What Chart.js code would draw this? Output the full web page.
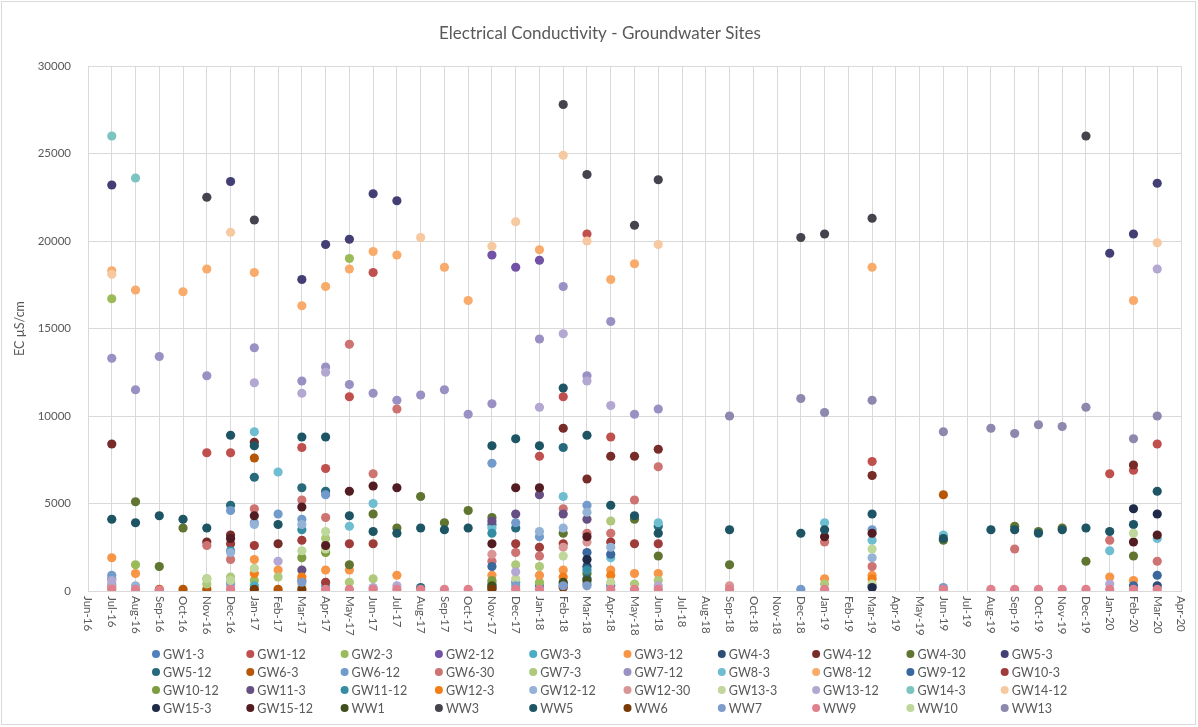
<!DOCTYPE html>
<html>
<head>
<meta charset="utf-8">
<script src="https://cdn.jsdelivr.net/npm/chart.js@4.4.1/dist/chart.umd.min.js"></script>
<style>
  html, body { margin: 0; padding: 0; background: #ffffff; }
  #wrap { width: 1198px; height: 727px; }
</style>
</head>
<body>
<div id="wrap"><canvas id="c" width="1198" height="727"></canvas></div>
<script>
// ---------- tick labels ----------
const months = ['Jun-16','Jul-16','Aug-16','Sep-16','Oct-16','Nov-16','Dec-16',
  'Jan-17','Feb-17','Mar-17','Apr-17','May-17','Jun-17','Jul-17','Aug-17','Sep-17','Oct-17','Nov-17','Dec-17',
  'Jan-18','Feb-18','Mar-18','Apr-18','May-18','Jun-18','Jul-18','Aug-18','Sep-18','Oct-18','Nov-18','Dec-18',
  'Jan-19','Feb-19','Mar-19','Apr-19','May-19','Jun-19','Jul-19','Aug-19','Sep-19','Oct-19','Nov-19','Dec-19',
  'Jan-20','Feb-20','Mar-20','Apr-20'];
const yTicks = [0, 5000, 10000, 15000, 20000, 25000, 30000];
const TITLE = 'Electrical Conductivity - Groundwater Sites';
const Y_TITLE = 'EC µS/cm';

// ---------- series (sample month, EC value) ----------
const GW1_3 = [['Jul-16',700],['Dec-16',400],['Mar-17',600],['Nov-17',400],['Jan-18',300],['Feb-18',400],['Apr-18',300],['Mar-19',300]];
const GW1_12 = [['Nov-16',7900],['Dec-16',7900],['Mar-17',8200],['Apr-17',7000],['May-17',11100],['Jun-17',18200],['Jan-18',7700],['Feb-18',11100],['Mar-18',20400],['Apr-18',8800],['Mar-19',7400],['Jan-20',6700],['Feb-20',6900],['Mar-20',8400]];
const GW2_3 = [['Jul-16',16700],['Aug-16',1500],['Nov-16',700],['Jan-17',600],['May-17',19000],['Jan-18',500]];
const GW2_12 = [['Nov-17',19200],['Dec-17',18500],['Jan-18',18900]];
const GW3_3 = [['Jul-16',300],['Jan-17',300],['Apr-17',300],['Dec-17',500],['Feb-18',300],['Mar-18',400]];
const GW3_12 = [['Jul-16',1900],['Aug-16',1000],['Jan-17',1800],['Feb-17',1200],['Apr-17',1200],['May-17',1200],['Jul-17',900],['Nov-17',900],['Jan-18',900],['Feb-18',1200],['Apr-18',1200],['May-18',1000],['Jun-18',1000],['Jan-19',700],['Mar-19',900],['Jan-20',800],['Feb-20',600]];
const GW4_3 = [['Mar-18',1400],['Mar-20',300]];
const GW4_12 = [['Jul-16',8400],['Nov-16',2800],['Dec-16',3200],['Jan-17',8500],['Feb-17',2700],['Feb-18',9300],['Mar-18',6400],['Apr-18',7700],['May-18',7700],['Jun-18',8100],['Mar-19',6600],['Feb-20',7200]];
const GW4_30 = [['Aug-16',5100],['Sep-16',1400],['Oct-16',3600],['May-17',1500],['Jun-17',4400],['Jul-17',3600],['Aug-17',5400],['Sep-17',3900],['Oct-17',4600],['Nov-17',4200],['Feb-18',3300],['Mar-18',1000],['May-18',4100],['Jun-18',2000],['Sep-18',1500],['Jun-19',2900],['Sep-19',3700],['Oct-19',3400],['Nov-19',3600],['Dec-19',1700],['Feb-20',2000]];
const GW5_3 = [['Jul-16',23200],['Dec-16',23400],['Mar-17',17800],['Apr-17',19800],['May-17',20100],['Jun-17',22700],['Jul-17',22300],['Jan-20',19300],['Feb-20',20400],['Mar-20',23300]];
const GW5_12 = [['Dec-16',4900],['Jan-17',6500],['Mar-17',5900],['Apr-17',5700],['Aug-17',200],['Nov-17',3800],['Dec-17',3600],['Feb-18',8200],['Mar-18',700],['Jun-18',3700]];
const GW6_3 = [['Sep-16',100],['Oct-16',100],['Nov-16',100],['Jan-17',7600],['Feb-17',100],['Jun-19',5500]];
const GW6_12 = [['Jul-16',900],['Dec-16',4600],['Jan-17',3900],['Feb-17',4400],['Mar-17',4100],['Apr-17',5500],['Nov-17',7300],['Dec-17',3900],['Jan-18',3100],['Mar-18',4900],['Dec-18',100],['Mar-19',3500],['Jun-19',200]];
const GW6_30 = [['Nov-16',2600],['Dec-16',1800],['Jan-17',4700],['Mar-17',5200],['Apr-17',4200],['May-17',14100],['Jun-17',6700],['Jul-17',10400],['Nov-17',1700],['Dec-17',2200],['Jan-18',2000],['Feb-18',4700],['Mar-18',3300],['Apr-18',3300],['May-18',5200],['Jun-18',7100],['Jan-19',2800],['Mar-19',1400],['Sep-19',2400],['Jan-20',2900],['Mar-20',1700]];
const GW7_3 = [['Nov-16',400],['Dec-16',800],['Feb-17',800],['Apr-17',3000],['May-17',500],['Jun-17',700],['Nov-17',500],['Dec-17',1500],['Jan-18',1400],['Apr-18',4000],['May-18',400],['Jun-18',600],['Jan-19',400]];
const GW7_12 = [['Jul-16',13300],['Aug-16',11500],['Sep-16',13400],['Nov-16',12300],['Jan-17',13900],['Mar-17',12000],['Apr-17',12800],['May-17',11800],['Jun-17',11300],['Jul-17',10900],['Aug-17',11200],['Sep-17',11500],['Oct-17',10100],['Nov-17',10700],['Jan-18',14400],['Feb-18',17400],['Mar-18',12300],['Apr-18',15400],['May-18',10100],['Jun-18',10400]];
const GW8_3 = [['Jan-17',9100],['Feb-17',6800],['May-17',3700],['Jun-17',5000],['Nov-17',3600],['Feb-18',5400],['Apr-18',1900],['Jun-18',3900],['Jan-19',3900],['Mar-19',2900],['Jun-19',3200],['Jan-20',2300],['Mar-20',3000]];
const GW8_12 = [['Jul-16',18300],['Aug-16',17200],['Oct-16',17100],['Nov-16',18400],['Jan-17',18200],['Mar-17',16300],['Apr-17',17400],['May-17',18400],['Jun-17',19400],['Jul-17',19200],['Sep-17',18500],['Oct-17',16600],['Jan-18',19500],['Apr-18',17800],['May-18',18700],['Mar-19',18500],['Feb-20',16600]];
const GW9_12 = [['Nov-17',1400],['Mar-18',2200],['Apr-18',2100],['Feb-20',300],['Mar-20',900]];
const GW10_3 = [['Dec-16',2700],['Jan-17',2600],['Mar-17',2900],['Apr-17',500],['May-17',2700],['Jun-17',2700],['Dec-17',2700],['Jan-18',2500],['Feb-18',2700],['Apr-18',2800],['May-18',2700],['Jun-18',2700]];
const GW10_12 = [['Mar-17',1900],['Apr-17',2200],['Nov-17',600]];
const GW11_3 = [['Mar-17',1200],['Nov-17',4000],['Dec-17',4400],['Jan-18',5500],['Feb-18',4400],['Mar-18',4100]];
const GW11_12 = [['Dec-16',2300],['Mar-17',3500],['Nov-17',3300],['Mar-18',1200]];
const GW12_3 = [['Jan-17',1000],['Mar-17',800],['Feb-18',800],['Apr-18',900],['Mar-19',700]];
const GW12_12 = [['Jul-16',400],['Aug-16',300],['Dec-16',2200],['Jan-17',3800],['Mar-17',3800],['Jan-18',3400],['Feb-18',3600],['Mar-18',4500],['Apr-18',2500],['Mar-19',1900]];
const GW12_30 = [['Jul-16',200],['Nov-17',2100],['Feb-18',2500],['Mar-18',2800],['Sep-18',300]];
const GW13_3 = [['Jan-17',1300],['Mar-17',300],['Apr-17',2400],['Dec-17',700],['Apr-18',500],['Mar-19',400]];
const GW13_12 = [['Jul-16',600],['Dec-16',300],['Jan-17',11900],['Feb-17',1700],['Mar-17',11300],['Apr-17',12500],['Jun-17',200],['Jul-17',300],['Dec-17',1100],['Jan-18',10500],['Feb-18',14700],['Mar-18',12000],['Apr-18',10600],['Jun-18',300],['Jan-20',400],['Mar-20',18400]];
const GW14_3 = [['Jul-16',26000],['Aug-16',23600]];
const GW14_12 = [['Jul-16',18100],['Dec-16',20500],['Aug-17',20200],['Nov-17',19700],['Dec-17',21100],['Feb-18',24900],['Mar-18',20000],['Jun-18',19800],['Mar-20',19900]];
const GW15_3 = [['Nov-17',200],['Mar-18',1800],['Mar-19',200],['Feb-20',4700],['Mar-20',4400]];
const GW15_12 = [['Dec-16',3000],['Jan-17',4300],['Mar-17',4800],['Apr-17',2600],['May-17',5700],['Jun-17',6000],['Jul-17',5900],['Nov-17',2700],['Dec-17',5900],['Jan-18',5900],['Mar-18',3100],['Jan-19',3100],['Mar-19',3300],['Feb-20',2800],['Mar-20',3200]];
const WW1 = [['Nov-17',300],['Feb-18',500],['Mar-18',600]];
const WW3 = [['Nov-16',22500],['Jan-17',21200],['Feb-18',27800],['Mar-18',23800],['May-18',20900],['Jun-18',23500],['Dec-18',20200],['Jan-19',20400],['Mar-19',21300],['Dec-19',26000]];
const WW5 = [['Jul-16',4100],['Aug-16',3900],['Sep-16',4300],['Oct-16',4100],['Nov-16',3600],['Dec-16',8900],['Jan-17',8300],['Feb-17',3800],['Mar-17',8800],['Apr-17',8800],['May-17',4300],['Jun-17',3400],['Jul-17',3300],['Aug-17',3600],['Sep-17',3500],['Oct-17',3600],['Nov-17',8300],['Dec-17',8700],['Jan-18',8300],['Feb-18',11600],['Mar-18',8900],['Apr-18',4900],['May-18',4300],['Jun-18',3300],['Sep-18',3500],['Dec-18',3300],['Jan-19',3500],['Mar-19',4400],['Jun-19',3000],['Aug-19',3500],['Sep-19',3500],['Oct-19',3300],['Nov-19',3500],['Dec-19',3600],['Jan-20',3400],['Feb-20',3800],['Mar-20',5700]];
const WW6 = [['Jan-17',100],['Mar-17',100],['Nov-17',100],['Feb-18',200]];
const WW7 = [['Dec-16',500],['Mar-17',500],['Dec-17',300],['Feb-18',300],['Mar-18',300]];
const WW9 = [['Jul-16',100],['Aug-16',100],['Sep-16',50],['Dec-16',100],['Apr-17',100],['May-17',100],['Jun-17',100],['Jul-17',100],['Aug-17',100],['Sep-17',100],['Oct-17',100],['Dec-17',100],['Jan-18',100],['Apr-18',100],['May-18',100],['Jun-18',100],['Sep-18',100],['Jan-19',100],['Jun-19',100],['Aug-19',100],['Sep-19',100],['Oct-19',100],['Nov-19',100],['Dec-19',100],['Jan-20',100],['Feb-20',100],['Mar-20',100]];
const WW10 = [['Nov-16',700],['Dec-16',600],['Mar-17',2300],['Apr-17',3400],['Feb-18',2000],['Mar-19',2400],['Feb-20',3300]];
const WW13 = [['Sep-18',10000],['Dec-18',11000],['Jan-19',10200],['Mar-19',10900],['Jun-19',9100],['Aug-19',9300],['Sep-19',9000],['Oct-19',9500],['Nov-19',9400],['Dec-19',10500],['Feb-20',8700],['Mar-20',10000]];

const seriesNames = ['GW1-3','GW1-12','GW2-3','GW2-12','GW3-3','GW3-12','GW4-3','GW4-12','GW4-30','GW5-3',
  'GW5-12','GW6-3','GW6-12','GW6-30','GW7-3','GW7-12','GW8-3','GW8-12','GW9-12','GW10-3',
  'GW10-12','GW11-3','GW11-12','GW12-3','GW12-12','GW12-30','GW13-3','GW13-12','GW14-3','GW14-12',
  'GW15-3','GW15-12','WW1','WW3','WW5','WW6','WW7','WW9','WW10','WW13'];
const seriesValues = [GW1_3,GW1_12,GW2_3,GW2_12,GW3_3,GW3_12,GW4_3,GW4_12,GW4_30,GW5_3,
  GW5_12,GW6_3,GW6_12,GW6_30,GW7_3,GW7_12,GW8_3,GW8_12,GW9_12,GW10_3,
  GW10_12,GW11_3,GW11_12,GW12_3,GW12_12,GW12_30,GW13_3,GW13_12,GW14_3,GW14_12,
  GW15_3,GW15_12,WW1,WW3,WW5,WW6,WW7,WW9,WW10,WW13];
const seriesColors = ['#4F81BD','#C0504D','#9BBB59','#7152A6','#4BACC6','#F79646','#2C4D75','#772C2A','#5F7530','#433F74',
  '#276A7C','#B65708','#729ACA','#CD7371','#AFC97A','#9A90C4','#6FBDD1','#F9AB6B','#3A679C','#9F3B38',
  '#7E9C40','#664F82','#358DA3','#F47D17','#95B3D7','#D99694','#C3D69B','#B2A8D2','#7CC4C0','#F6C9A0',
  '#1F2A48','#521C22','#3F4F1E','#45434E','#1D5564','#7A3A06','#7F9CCB','#E0808C','#BDD89A','#8C88AE'];

// ---------- chart ----------
const FONT = 'Lato, "Open Sans", sans-serif';
const TXT = '#595959';

const datasets = seriesNames.map((name, i) => ({
  label: name,
  data: seriesValues[i].map(p => ({ x: p[0], y: p[1] })),
  showLine: false,
  pointRadius: 4.6,
  pointHoverRadius: 4.6,
  pointBorderWidth: 0,
  backgroundColor: seriesColors[i],
  borderColor: seriesColors[i],
  order: -i
}));

const decor = {
  id: 'decor',
  beforeDraw(chart) {
    const ctx = chart.ctx;
    ctx.save();
    ctx.fillStyle = '#ffffff';
    ctx.fillRect(0, 0, chart.width, chart.height);
    ctx.strokeStyle = '#d9d9d9';
    ctx.lineWidth = 1;
    ctx.strokeRect(1.5, 1.5, chart.width - 4, chart.height - 4);
    ctx.restore();
  },
  afterDraw(chart) {
    const ctx = chart.ctx;
    ctx.save();
    // title
    ctx.fillStyle = TXT;
    ctx.font = '17px ' + FONT;
    ctx.textAlign = 'center';
    ctx.textBaseline = 'middle';
    ctx.fillText(TITLE, 600, 34);
    // x tick labels, rotated clockwise (read top to bottom)
    const xs = chart.scales.x;
    ctx.font = '11.5px ' + FONT;
    ctx.textAlign = 'left';
    ctx.textBaseline = 'middle';
    months.forEach((m, i) => {
      const x = xs.getPixelForValue(i);
      ctx.save();
      ctx.translate(x, xs.top + 5);
      ctx.rotate(Math.PI / 2);
      ctx.fillText(m, 0, 0);
      ctx.restore();
    });
    // legend grid
    ctx.font = '12.5px ' + FONT;
    ctx.textAlign = 'left';
    ctx.textBaseline = 'middle';
    chart.data.datasets.forEach((ds, i) => {
      const col = i % 10, row = Math.floor(i / 10);
      const mx = 156 + col * 94.3;
      const my = 654 + row * 18;
      ctx.beginPath();
      ctx.arc(mx, my, 4, 0, Math.PI * 2);
      ctx.fillStyle = ds.backgroundColor;
      ctx.fill();
      ctx.fillStyle = TXT;
      ctx.fillText(ds.label, mx + 7, my + 0.5);
    });
    ctx.restore();
  }
};

new Chart(document.getElementById('c'), {
  type: 'line',
  data: { labels: months, datasets },
  options: {
    responsive: false,
    animation: false,
    devicePixelRatio: 1,
    layout: { padding: { left: 8, right: 17, top: 66, bottom: 88 } },
    plugins: {
      legend: { display: false },
      title: { display: false },
      tooltip: { enabled: false }
    },
    scales: {
      x: {
        type: 'category',
        offset: false,
        grid: { color: '#d9d9d9', lineWidth: 1, drawTicks: false },
        border: { color: '#d9d9d9' },
        ticks: {
          color: 'rgba(0,0,0,0)', autoSkip: false, minRotation: 90, maxRotation: 90,
          font: { family: FONT, size: 11.5 }
        },
        afterFit(scale) { scale.height = 48; }
      },
      y: {
        min: 0, max: 30000,
        afterBuildTicks(scale) { scale.ticks = yTicks.map(v => ({ value: v })); },
        grid: { color: '#d9d9d9', lineWidth: 1, drawTicks: false },
        border: { display: false },
        ticks: {
          color: TXT, padding: 17,
          font: { family: FONT, size: 11.5 },
          callback: v => String(v)
        },
        title: {
          display: true, text: Y_TITLE, color: TXT,
          font: { family: FONT, size: 12.5 },
          padding: { top: 4, bottom: 0 }
        },
        afterFit(scale) { scale.width = 80; }
      }
    }
  },
  plugins: [decor]
});
</script>
</body>
</html>
